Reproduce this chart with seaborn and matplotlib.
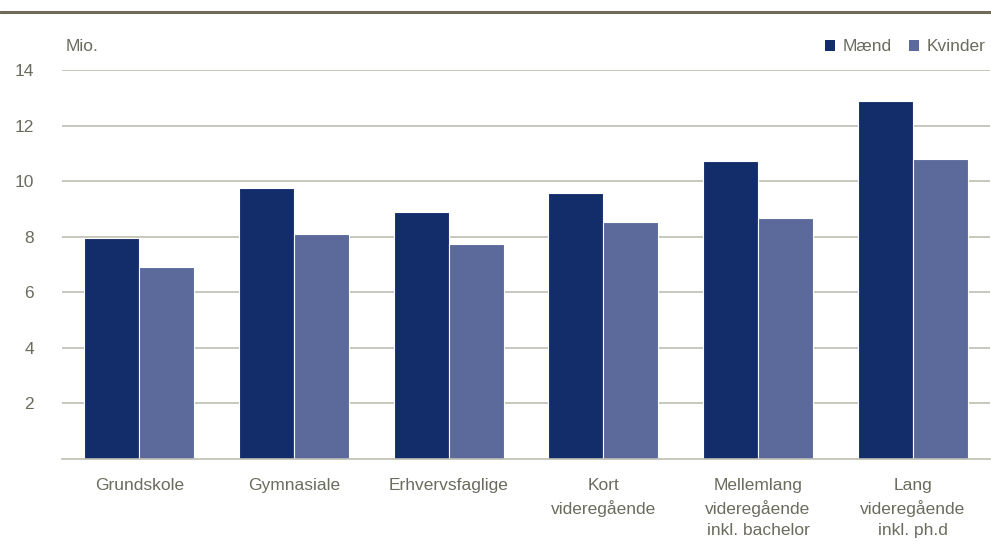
import matplotlib
matplotlib.use("Agg")
import matplotlib.pyplot as plt
import seaborn as sns
import pandas as pd
from matplotlib.lines import Line2D
from matplotlib.patches import Patch

categories = ["Grundskole", "Gymnasiale", "Erhvervsfaglige", "Kort\nvideregående",
              "Mellemlang\nvideregående\ninkl. bachelor", "Lang\nvideregående\ninkl. ph.d"]
maend = [7.97, 9.75, 8.9, 9.57, 10.72, 12.87]
kvinder = [6.92, 8.1, 7.72, 8.52, 8.68, 10.8]
series = ["Mænd", "Kvinder"]
colors = ["#122D69", "#5B6A9B"]
yticks = [2, 4, 6, 8, 10, 12, 14]

df = pd.DataFrame({
    "kategori": categories * 2,
    "værdi": maend + kvinder,
    "køn": [series[0]] * len(categories) + [series[1]] * len(categories),
})

sns.set_theme(style="white")
plt.rcParams['font.family'] = ['Liberation Sans Narrow', 'Liberation Sans', 'DejaVu Sans']
textcol = "#6B6B5E"
gridcol = "#BDBDB3"

fig = plt.figure(figsize=(9.91, 5.53), dpi=100)
ax = fig.add_axes([62/991, 1-459/553, (990-62)/991, (459-70)/553])

sns.barplot(data=df, x="kategori", y="værdi", hue="køn", palette=colors,
            width=0.71, ax=ax, edgecolor="white", linewidth=0.8, legend=False,
            saturation=1)

ax.set_ylim(0, 14)
ax.set_xlim(-0.5, 5.5)
ax.set_yticks(yticks)
ax.set_yticklabels([str(t) for t in yticks])
ax.yaxis.grid(True, color=gridcol, linewidth=1.2)
ax.set_axisbelow(True)
for s in ["top", "right", "left"]:
    ax.spines[s].set_visible(False)
ax.spines["bottom"].set_color(gridcol)
ax.spines["bottom"].set_linewidth(1.2)
ax.set_xlabel("")
ax.set_ylabel("")
ax.tick_params(axis="both", length=0, labelsize=12.5, colors=textcol)
ax.tick_params(axis="y", pad=20)
ax.tick_params(axis="x", pad=14)
for lab in ax.get_xticklabels():
    lab.set_horizontalalignment("center")
    lab.set_linespacing(1.5)

fig.text(66/991, 1-47/553, "Mio.", color=textcol, fontsize=12.5, va="center", ha="left")

handles = [Patch(facecolor=c, edgecolor="none") for c in colors]
leg = fig.legend(handles, series, loc="center right", bbox_to_anchor=(992/991, 1-47/553),
                 ncol=2, frameon=False, fontsize=12.5, handlelength=0.6, handleheight=0.6,
                 handletextpad=0.4, columnspacing=1.0, borderaxespad=0)
for t in leg.get_texts():
    t.set_color(textcol)

fig.add_artist(Line2D([0, 1], [1-12/553, 1-12/553], color="#6E6B5A", linewidth=2.2,
                      transform=fig.transFigure))

fig.savefig("out.png", dpi=100)
